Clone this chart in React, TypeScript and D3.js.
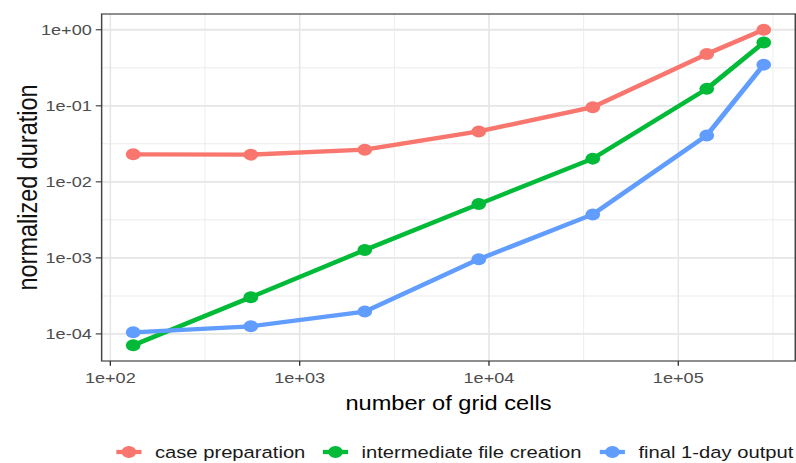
import * as d3 from 'd3';

// number of grid cells (x) and normalized durations per step
const CELLS = [132, 552, 2208, 8832, 35328, 141312, 282624];
const CASE_PREP = [0.023, 0.0228, 0.0265, 0.046, 0.096, 0.48, 1.0];
const INTERMEDIATE = [7.1e-5, 3.04e-4, 1.27e-3, 5.1e-3, 0.0202, 0.167, 0.682];
const FINAL_OUTPUT = [1.05e-4, 1.26e-4, 1.97e-4, 9.6e-4, 3.73e-3, 0.0408, 0.348];

const SERIES = [
  { name: 'case preparation', color: '#F8766D', values: CASE_PREP },
  { name: 'intermediate file creation', color: '#00BA38', values: INTERMEDIATE },
  { name: 'final 1-day output', color: '#619CFF', values: FINAL_OUTPUT },
];

const X_TICKS = [1e2, 1e3, 1e4, 1e5];
const Y_TICKS = [1e-4, 1e-3, 1e-2, 1e-1, 1];

// the reference is stretched horizontally; draw in a narrower logical space
const VW = 650;
const H = 463;
const margin = { top: 14, right: 0.6, bottom: 102, left: 83 };
const FONT = '"Liberation Sans", Arial, Helvetica, sans-serif';

function sci(v: number) {
  const e = Math.round(Math.log10(v));
  const sign = e < 0 ? '-' : '+';
  return `1e${sign}${String(Math.abs(e)).padStart(2, '0')}`;
}

// ggplot style 5% expansion on log scale
function expanded(vals: number[]) {
  const [lo, hi] = d3.extent(vals.map(v => Math.log10(v))) as [number, number];
  const pad = (hi - lo) * 0.05;
  return [Math.pow(10, lo - pad), Math.pow(10, hi + pad)];
}

function minors(domain: number[]) {
  const out: number[] = [];
  const a = Math.floor(Math.log10(domain[0])) - 1;
  const b = Math.ceil(Math.log10(domain[1])) + 1;
  for (let e = a; e < b; e++) {
    const v = Math.pow(10, e + 0.5);
    if (v >= domain[0] && v <= domain[1]) out.push(v);
  }
  return out;
}

export default function App() {
  const x0 = margin.left;
  const x1 = VW - margin.right;
  const y0 = margin.top;
  const y1 = H - margin.bottom;

  const xDomain = expanded(CELLS);
  const yDomain = expanded(SERIES.flatMap(s => s.values));
  const x = d3.scaleLog().domain(xDomain).range([x0, x1]);
  const y = d3.scaleLog().domain(yDomain).range([y1, y0]);

  const line = d3.line<number>()
    .x((_, i) => x(CELLS[i]))
    .y(d => y(d));

  const legendX = [95, 263.7, 489.8];

  return (
    <svg
      width={796}
      height={H}
      viewBox={`0 0 ${VW} ${H}`}
      preserveAspectRatio="none"
      style={{ position: 'absolute', left: 0, top: 0, display: 'block', background: '#fff' }}
      fontFamily={FONT}
    >
      <rect x={x0} y={y0} width={x1 - x0} height={y1 - y0} fill="#fff" />
      {/* minor grid */}
      {minors(xDomain).map(v => (
        <line key={'mx' + v} x1={x(v)} x2={x(v)} y1={y0} y2={y1} stroke="#EBEBEB" strokeWidth={0.8} />
      ))}
      {minors(yDomain).map(v => (
        <line key={'my' + v} x1={x0} x2={x1} y1={y(v)} y2={y(v)} stroke="#EBEBEB" strokeWidth={1} />
      ))}
      {/* major grid */}
      {X_TICKS.map(v => (
        <line key={'gx' + v} x1={x(v)} x2={x(v)} y1={y0} y2={y1} stroke="#E6E6E6" strokeWidth={1.3} />
      ))}
      {Y_TICKS.map(v => (
        <line key={'gy' + v} x1={x0} x2={x1} y1={y(v)} y2={y(v)} stroke="#E6E6E6" strokeWidth={1.8} />
      ))}

      {SERIES.map(s => (
        <path key={s.name} d={line(s.values) || ''} fill="none" stroke={s.color} strokeWidth={4.3} strokeLinejoin="round" />
      ))}
      {SERIES.map(s => (
        <g key={s.name + 'pts'}>
          {s.values.map((v, i) => (
            <circle key={i} cx={x(CELLS[i])} cy={y(v)} r={6} fill={s.color} />
          ))}
        </g>
      ))}

      <rect x={x0} y={y0} width={x1 - x0} height={y1 - y0} fill="none" stroke="#444" strokeWidth={1.2} />

      {/* y axis */}
      {Y_TICKS.map(v => (
        <g key={'ty' + v}>
          <line x1={x0 - 4.8} x2={x0} y1={y(v)} y2={y(v)} stroke="#333" strokeWidth={1.1} />
          <text x={x0 - 8} y={y(v)} dy="0.36em" textAnchor="end" fontSize={14.8} fill="#4D4D4D">{sci(v)}</text>
        </g>
      ))}
      {/* x axis */}
      {X_TICKS.map(v => (
        <g key={'tx' + v}>
          <line x1={x(v)} x2={x(v)} y1={y1} y2={y1 + 4.8} stroke="#333" strokeWidth={1.1} />
          <text x={x(v)} y={383} textAnchor="middle" fontSize={14.8} fill="#4D4D4D">{sci(v)}</text>
        </g>
      ))}

      <text x={(x0 + x1) / 2} y={410.5} textAnchor="middle" fontSize={19.3} fill="#000">number of grid cells</text>
      <text
        transform={`translate(30.5,${(y0 + y1) / 2}) rotate(-90)`}
        textAnchor="middle"
        fontSize={22}
        textLength={206}
        lengthAdjust="spacingAndGlyphs"
        fill="#111"
      >
        normalized duration
      </text>

      {/* legend */}
      {SERIES.map((s, i) => (
        <g key={'lg' + s.name} transform={`translate(${legendX[i]},452)`}>
          <line x1={0} x2={20.5} y1={0} y2={0} stroke={s.color} strokeWidth={4.3} />
          <circle cx={10.25} cy={0} r={6} fill={s.color} />
          <text x={31.5} y={0} dy="0.36em" fontSize={16.5} fill="#1A1A1A">{s.name}</text>
        </g>
      ))}
    </svg>
  );
}
